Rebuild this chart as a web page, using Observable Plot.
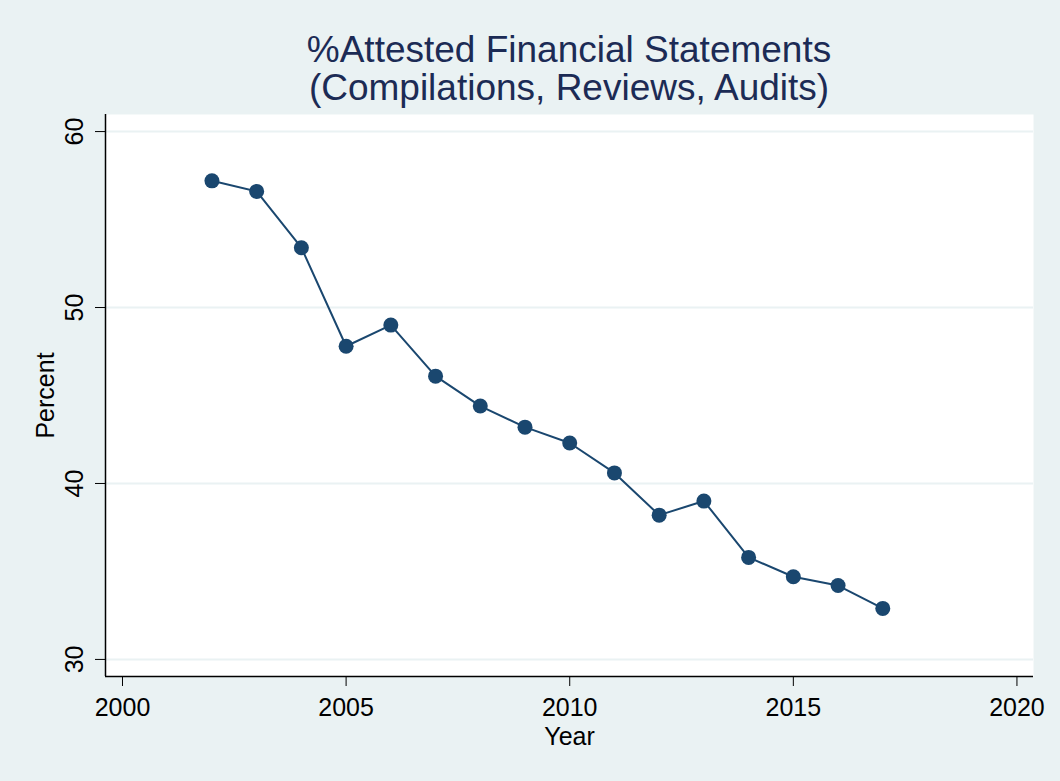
<!DOCTYPE html>
<html>
<head>
<meta charset="utf-8">
<script src="https://cdn.jsdelivr.net/npm/d3@7"></script>
<script src="https://cdn.jsdelivr.net/npm/@observablehq/plot@0.6"></script>
<style>
  html, body { margin: 0; padding: 0; background: #eaf2f3; }
  #title { margin-left: 105px; width: 928px; height: 107px; box-sizing: border-box; padding-top: 31px;
           text-align: center; font-family: "Liberation Sans", Arial, sans-serif; font-size: 37px;
           line-height: 38px; color: #1c2b55; }
  #chart svg { display: block; }
</style>
</head>
<body>
<div id="title">%Attested Financial Statements<br>(Compilations, Reviews, Audits)</div>
<div id="chart"></div>
<script>
const years = [2002, 2003, 2004, 2005, 2006, 2007, 2008, 2009, 2010, 2011, 2012, 2013, 2014, 2015, 2016, 2017];
const percents = [57.2, 56.6, 53.4, 47.8, 49.0, 46.1, 44.4, 43.2, 42.3, 40.6, 38.2, 39.0, 35.8, 34.7, 34.2, 32.9];
const xTicks = [2000, 2005, 2010, 2015, 2020];
const yTicks = [30, 40, 50, 60];
const xLabel = "Year";
const yLabel = "Percent";

const data = years.map((y, i) => ({year: y, pct: percents[i]}));
const xDomain = [1999.62, 2020.37];
const yDomain = [29.03, 60.97];
const navy = "#1a476f";

const chart = Plot.plot({
  width: 1060,
  height: 674,
  marginTop: 7,
  marginBottom: 105,
  marginLeft: 105,
  marginRight: 27,
  style: {background: "#eaf2f3", fontFamily: "'Liberation Sans', Arial, sans-serif", fontSize: "25px", color: "black"},
  x: {domain: xDomain, ticks: xTicks, tickSize: 10, tickPadding: 12, tickFormat: d => String(d), label: null},
  y: {domain: yDomain, ticks: yTicks, tickSize: 10, tickFormat: () => "", label: null},
  marks: [
    Plot.frame({fill: "white", stroke: "none"}),
    Plot.ruleY(yTicks, {stroke: "#eaf2f3", strokeWidth: 2}),
    Plot.ruleX([xDomain[0]], {stroke: "black", strokeWidth: 1.5}),
    Plot.ruleY([yDomain[0]], {stroke: "black", strokeWidth: 1.5}),
    Plot.text(yTicks, {y: d => d, frameAnchor: "left", dx: -31, rotate: -90, text: d => String(d), fontSize: 25, textAnchor: "middle", lineAnchor: "middle", fill: "black"}),
    Plot.text([yLabel], {frameAnchor: "left", dx: -60, rotate: -90, fontSize: 25, textAnchor: "middle", lineAnchor: "middle", fill: "black"}),
    Plot.text([xLabel], {frameAnchor: "bottom", dy: 60, fontSize: 25, textAnchor: "middle", lineAnchor: "middle", fill: "black"}),
    Plot.line(data, {x: "year", y: "pct", stroke: navy, strokeWidth: 2}),
    Plot.dot(data, {x: "year", y: "pct", fill: navy, r: 7.5, stroke: "none"})
  ]
});
document.getElementById("chart").appendChild(chart);
</script>
</body>
</html>
